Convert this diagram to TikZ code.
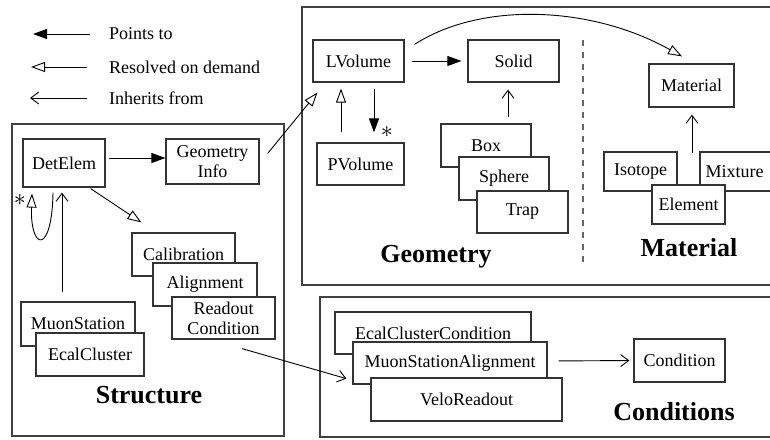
\documentclass[tikz,border=0pt]{standalone}
\usepackage{fontspec}
\setmainfont{LiberationSerif}[Extension=.ttf, UprightFont=*-Regular, BoldFont=*-Bold, ItalicFont=*-Italic, BoldItalicFont=*-BoldItalic]
\usetikzlibrary{arrows.meta}
\tikzset{points/.style={-{Triangle[length=7pt,width=5pt]}},
  resolved/.style={-{Triangle[open,length=7pt,width=5pt]}},
  inherits/.style={-{Straight Barb[length=4pt,width=6pt]}},
  cls/.style={draw=black!80, fill=white, line width=0.6pt, inner sep=0pt, align=center},
  frame/.style={draw=black!75, line width=0.7pt},
  title/.style={font=\fontsize{13}{15}\selectfont\bfseries}}

\begin{document}
\begin{tikzpicture}[x=0.5pt, y=-0.5pt, font=\fontsize{9}{10}\selectfont, line width=0.45pt]
      \useasboundingbox (0, 0) rectangle (770, 439);

      % legend
      \coordinate (lg1a) at (90, 34);
      \coordinate (lg1b) at (33, 34);
      \coordinate (lg2a) at (87, 67);
      \coordinate (lg2b) at (31, 67);
      \coordinate (lg3a) at (87, 98);
      \coordinate (lg3b) at (30, 98);
      \draw [points] (lg1a) -- (lg1b);
      \draw [resolved] (lg2a) -- (lg2b);
      \draw [inherits] (lg3a) -- (lg3b);
      \node [anchor=west] (lgtxt1) at (102, 34) {Points to};
      \node [anchor=west] (lgtxt2) at (102, 67) {Resolved on demand};
      \node [anchor=west] (lgtxt3) at (102, 98) {Inherits from};

      % frames
      \draw [frame] (12, 124) rectangle (284, 436);
      \draw [frame] (302, 7) rectangle (790, 285);
      \draw [frame] (320, 297) rectangle (790, 437);
      \draw [dashed, black!60, line width=0.6pt] (583, 40) -- (583, 267);

      % structure
      \node [cls, minimum width=41pt, minimum height=24pt] (detelem) at (64, 163) {DetElem};
      \node [cls, minimum width=46.5pt, minimum height=22.5pt] (geoinfo) at (212.5, 161.5) {Geometry\\Info};
      \node [cls, minimum width=51.5pt, minimum height=21.5pt] (calib) at (183.5, 254.5) {Calibration};
      \node [cls, minimum width=52pt, minimum height=21.5pt] (align) at (205, 284.5) {Alignment};
      \node [cls, minimum width=51.5pt, minimum height=21pt] (readout) at (223.5, 318) {Readout\\Condition};
      \node [cls, minimum width=57pt, minimum height=22pt] (muon) at (78, 324) {MuonStation};
      \node [cls, minimum width=54pt, minimum height=21.5pt] (ecal) at (90, 354.5) {EcalCluster};
      \node [title] (structure) at (149, 395) {Structure};
      \node [scale=1.3] (star1) at (20, 200) {$*$};

      % geometry
      \node [cls, minimum width=45.5pt, minimum height=21pt] (lvol) at (358.5, 61) {LVolume};
      \node [cls, minimum width=45.5pt, minimum height=21pt] (solid) at (513.5, 61) {Solid};
      \node [cls, minimum width=43.5pt, minimum height=21pt] (pvol) at (360.5, 164) {PVolume};
      \node [cls, minimum width=45pt, minimum height=21.5pt] (boxs) at (486, 145.5) {Box};
      \node [cls, minimum width=45pt, minimum height=21.5pt] (sphere) at (504, 178.5) {Sphere};
      \node [cls, minimum width=45.5pt, minimum height=21pt] (trap) at (522.5, 212) {Trap};
      \node [title] (geometry) at (436, 257) {Geometry};
      \node [scale=1.3] (star2) at (387, 132) {$*$};

      % material
      \node [cls, minimum width=42.5pt, minimum height=21.5pt] (material) at (691.5, 85.5) {Material};
      \node [cls, minimum width=36.5pt, minimum height=19.5pt] (isotope) at (640.5, 171.5) {Isotope};
      \node [cls, minimum width=36.5pt, minimum height=19.5pt, text width=31pt, align=left] (mixture) at (736.5, 171.5) {Mixture};
      \node [cls, minimum width=36.5pt, minimum height=19.5pt] (element) at (688.5, 204.5) {Element};
      \node [title] (materialt) at (689, 248) {Material};

      % conditions
      \node [cls, minimum width=98pt, minimum height=21pt] (eccond) at (433, 333) {EcalClusterCondition};
      \node [cls, minimum width=97pt, minimum height=21pt] (msalign) at (450, 363) {MuonStationAlignment};
      \node [cls, minimum width=95.5pt, minimum height=21.5pt] (velo) at (466.5, 399.5) {VeloReadout};
      \node [cls, minimum width=45.5pt, minimum height=21.5pt] (condition) at (679.5, 360.5) {Condition};
      \node [title] (conditions) at (674, 412) {Conditions};

      % connectors
      \draw [points, shorten <=1.5pt] ([yshift=2.5pt]detelem.east) -- ([yshift=1.75pt]geoinfo.west);
      \draw [resolved] ([xshift=4pt, yshift=4pt]geoinfo.east) -- ([xshift=2.5pt, yshift=-5pt]lvol.south west);
      \draw [resolved] ([xshift=-7.5pt, yshift=-0.5pt]detelem.south east) -- ([xshift=5pt, yshift=5pt]calib.north west);
      \draw [resolved] ([xshift=-5.5pt, yshift=-2.5pt]detelem.south) .. controls +(-1, 63) and +(-2, 57) .. ([xshift=-16pt, yshift=-3pt]detelem.south);
      \draw [inherits] ([xshift=-8pt, yshift=4.5pt]muon.north) -- ([xshift=-1pt, yshift=-2.5pt]detelem.south);
      \draw [inherits] ([xshift=9.25pt, yshift=-4.5pt]readout.south) -- ([xshift=-3pt, yshift=3pt]msalign.south west);

      \draw [points, shorten <=3.5pt, shorten >=3pt] (lvol.east) -- (solid.west);
      \draw [resolved] ([xshift=-9.75pt, yshift=5pt]pvol.north) -- ([xshift=-8.75pt, yshift=-3pt]lvol.south);
      \draw [points] ([xshift=7.75pt, yshift=-3pt]lvol.south) -- ([xshift=6.75pt, yshift=5pt]pvol.north);
      \draw [inherits] ([xshift=11pt, yshift=3pt]boxs.north) -- ([xshift=-2.75pt, yshift=-3.5pt]solid.south);
      \draw [resolved] ([xshift=5pt, yshift=-2.5pt]lvol.north east) .. controls (480, 2) and (590, 5) .. ([xshift=-4.75pt, yshift=3.5pt]material.north);
      \draw [inherits] ([xshift=1.75pt, yshift=15.5pt]element.north) -- ([xshift=0.25pt, yshift=-3.5pt]material.south);

      \draw [inherits, shorten <=5.5pt, shorten >=2pt] ([yshift=1pt]msalign.east) -- (condition.west);
    \end{tikzpicture}
\end{document}
